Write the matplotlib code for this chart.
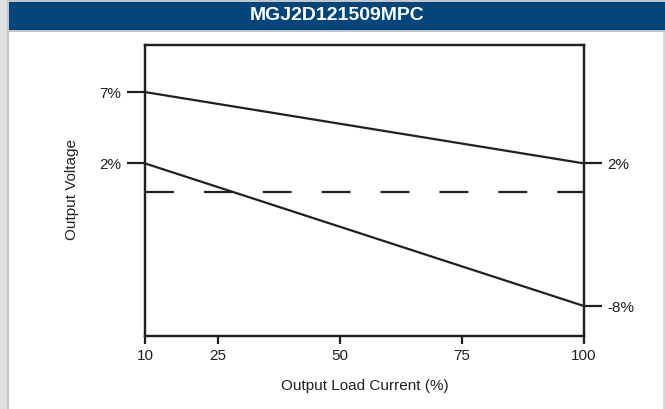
import matplotlib.pyplot as plt
from matplotlib.patches import Rectangle

plt.rcParams['font.family'] = ['Liberation Sans Narrow', 'Liberation Sans', 'DejaVu Sans']

# data
load = [10, 100]
upper = [7, 2]
lower = [2, -8]
nominal = [0, 0]
x_ticks = [10, 25, 50, 75, 100]
left_ticks = [7, 2]
right_ticks = [2, -8]
title = "MGJ2D121509MPC"

fig = plt.figure(figsize=(6.65, 4.09), dpi=100)
W, H = 665, 409

# page frame: gray strip on the left, blue title bar
fig.patches.append(Rectangle((0, 0), 7/W, 1, transform=fig.transFigure,
                             facecolor='#e1e1e1', edgecolor='none'))
fig.patches.append(Rectangle((7/W, 0), 2/W, 1, transform=fig.transFigure,
                             facecolor='#c6c6c6', edgecolor='none'))
fig.patches.append(Rectangle((9/W, (H-32)/H), 1, 32/H, transform=fig.transFigure,
                             facecolor='#c6c6c6', edgecolor='none'))
fig.patches.append(Rectangle((9/W, (H-30)/H), 1, 28/H, transform=fig.transFigure,
                             facecolor='#02457a', edgecolor='none'))
fig.patches.append(Rectangle((663/W, 0), 2/W, (H-32)/H, transform=fig.transFigure,
                             facecolor='#d8d8d8', edgecolor='none'))
fig.text(337/W, (H-16)/H, title, color='white', fontsize=14, fontweight='bold',
         ha='center', va='center')

ax = fig.add_axes([145/W, (H-336)/H, 439/W, 291/H])
ax.plot(load, upper, color='#231f20', lw=1.6)
ax.plot(load, lower, color='#231f20', lw=1.6)
ax.plot(load, nominal, color='#231f20', lw=1.6, dashes=(13, 13.5))
ax.set_xlim(10, 100)
ax.set_ylim(-10.1, 10.3)

for s in ax.spines.values():
    s.set_linewidth(1.6)
    s.set_color('#231f20')

ax.set_xticks(x_ticks)
ax.set_xticklabels([str(v) for v in x_ticks])
ax.tick_params(axis='x', length=6, width=1.6, color='#231f20', labelsize=11,
               pad=3, labelcolor='#231f20')
ax.set_yticks(left_ticks)
ax.set_yticklabels([f"{v}%" for v in left_ticks])
ax.tick_params(axis='y', length=13, width=1.6, color='#231f20', labelsize=11,
               pad=4, labelcolor='#231f20')

ax2 = ax.twinx()
ax2.set_ylim(ax.get_ylim())
ax2.set_yticks(right_ticks)
ax2.set_yticklabels([f"{v}%" for v in right_ticks])
ax2.tick_params(axis='y', length=13, width=1.6, color='#231f20', labelsize=11,
                pad=4, labelcolor='#231f20')
for s in ax2.spines.values():
    s.set_linewidth(1.6)
    s.set_color('#231f20')

ax.set_xlabel("Output Load Current (%)", fontsize=11, color='#231f20', labelpad=12)
fig.text(72/W, (H-190)/H, "Output Voltage", rotation=90, fontsize=11,
         color='#231f20', ha='center', va='center')

fig.savefig("out.png", dpi=100)
